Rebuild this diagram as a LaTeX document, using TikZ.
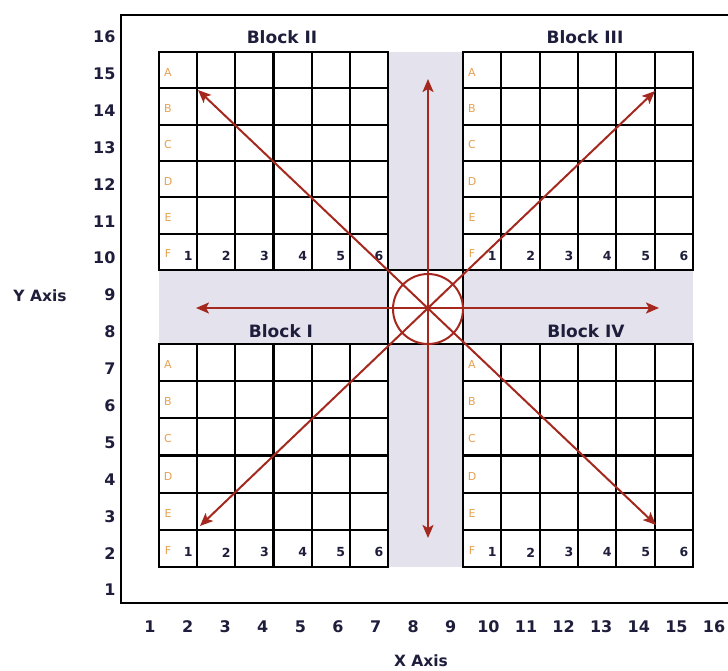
\documentclass[tikz,border=0pt]{standalone}
\usepackage{fontspec}
\setmainfont{DejaVu Sans}
\usetikzlibrary{arrows.meta}
\definecolor{navy}{RGB}{30,30,60}
\definecolor{band}{RGB}{228,226,236}
\definecolor{arrred}{RGB}{165,40,30}
\definecolor{letter}{RGB}{230,160,80}
\tikzset{
 gridline/.style={draw=black,line width=2.3pt,line cap=rect},
 frameline/.style={draw=black,line width=2pt},
 blocklabel/.style={font=\fontsize{17}{19}\selectfont\bfseries,text=navy},
 axisnum/.style={font=\fontsize{16}{18}\selectfont\bfseries,text=navy},
 axistitle/.style={font=\fontsize{15.5}{17}\selectfont\bfseries,text=navy},
 rowletter/.style={font=\fontsize{11}{12}\selectfont,text=letter},
 colnum/.style={font=\fontsize{12.5}{14}\selectfont\bfseries,text=navy},
 arr/.style={draw=arrred,line width=2pt,{Stealth[length=13pt,width=11pt,inset=3pt]}-{Stealth[length=13pt,width=11pt,inset=3pt]}},
 hub/.style={circle,draw=arrred,line width=2pt,minimum size=70pt,inner sep=0pt},
}
\newcommand\gridblock[5]{%
  \pgfmathsetmacro\cw{(#4-#2)/6}%
  \pgfmathsetmacro\ch{(#5-#3)/6}%
  \foreach \i in {0,...,6}{%
    \draw[gridline] ({#2+\i*\cw},#3) -- ({#2+\i*\cw},#5);
    \draw[gridline] (#2,{#3+\i*\ch}) -- (#4,{#3+\i*\ch});
  }%
  \foreach \L [count=\k from 0] in {A,B,C,D,E,F}
    \node[rowletter] (#1-\L) at ({#2+9},{#3+(\k+0.5)*\ch+2}) {\L};
  \foreach \n in {1,...,6}
    \node[colnum] (#1-n\n) at ({#2+\n*\cw-9},{#3+5.5*\ch+4}) {\n};
}
\begin{document}
\begin{tikzpicture}[x=1pt,y=-1pt]
\useasboundingbox (0,0) rectangle (728,671);
% bands
\fill[band] (388,52) rectangle (463,567);
\fill[band] (159,270) rectangle (693,344);
\draw[gridline,fill=white] (388,270) rectangle (463,344);
% frame
\draw[frameline] (730,15) -- (121,15) -- (121,603) -- (730,603);
% grids
\gridblock{bII}{159}{52}{388}{270}
\gridblock{bI}{159}{344}{388}{567}
\gridblock{bIII}{463}{52}{693}{270}
\gridblock{bIV}{463}{344}{693}{567}
% block labels
\node[blocklabel] (lII) at (282,37) {Block II};
\node[blocklabel] (lIII) at (585,37) {Block III};
\node[blocklabel] (lI) at (281,331) {Block I};
\node[blocklabel] (lIV) at (586,331) {Block IV};
% hub and arrows
\node[hub] (c) at (428,309) {};
\coordinate (eII) at (198,90);
\coordinate (eIV) at (656,525);
\coordinate (eIII) at (655,91);
\coordinate (eI) at (200,526);
\coordinate (eU) at (428,79);
\coordinate (eD) at (428,538);
\coordinate (eL) at (196,308);
\coordinate (eR) at (659,308);
\draw[arr] (eII) -- (eIV);
\draw[arr] (eIII) -- (eI);
\draw[arr] (eU) -- (eD);
\draw[arr] (eL) -- (eR);
% axes numbers
\foreach \n in {1,...,16}{
  \node[axisnum,anchor=east] (y\n) at (119,{590-(\n-1)*36.87}) {\n};
  \node[axisnum] (x\n) at ({150+(\n-1)*37.6},627) {\n};
}
\node[axistitle] (xt) at (421,661) {X Axis};
\node[axistitle] (yt) at (40,296) {Y Axis};
\end{tikzpicture}
\end{document}
